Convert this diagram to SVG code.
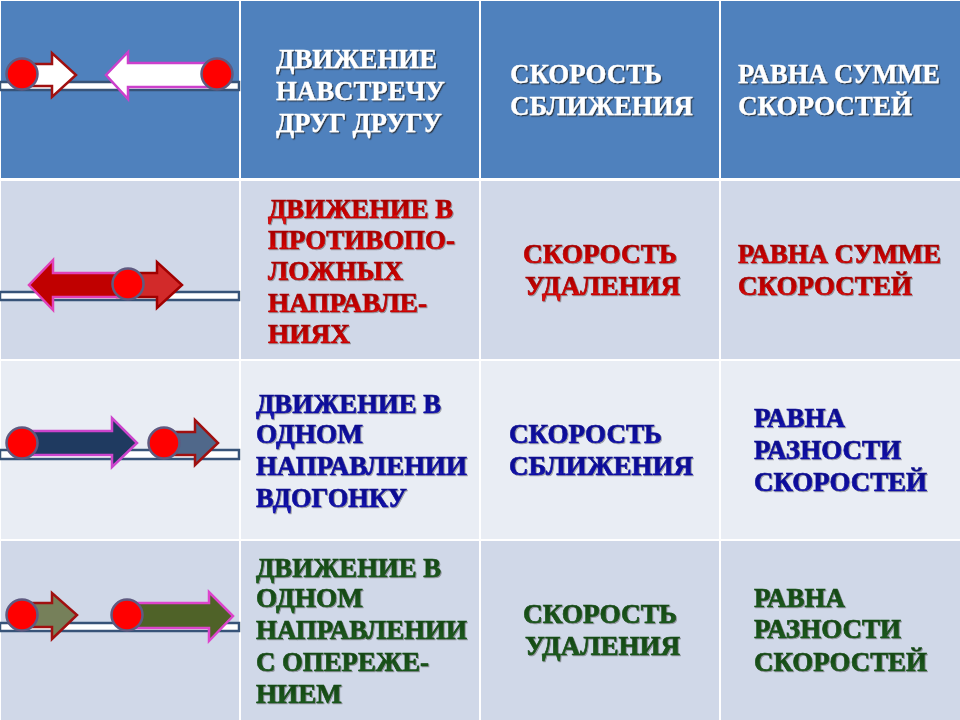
<svg xmlns="http://www.w3.org/2000/svg" width="960" height="720" viewBox="0 0 960 720">
<defs>
<filter id="sh" x="-5%" y="-20%" width="110%" height="140%">
<feDropShadow dx="1.2" dy="1.2" stdDeviation="0.6" flood-color="#202020" flood-opacity="0.8"/>
</filter>
<filter id="sh2" x="-5%" y="-20%" width="110%" height="140%">
<feDropShadow dx="1" dy="1" stdDeviation="0.6" flood-color="#404040" flood-opacity="0.45"/>
</filter>
<linearGradient id="gRed" x1="0" y1="0" x2="0" y2="1">
<stop offset="0" stop-color="#8a0000"/>
<stop offset="0.5" stop-color="#c00000"/>
<stop offset="1" stop-color="#e81010"/>
</linearGradient>
<linearGradient id="gBlue" x1="0" y1="0" x2="0" y2="1">
<stop offset="0" stop-color="#08087a"/>
<stop offset="1" stop-color="#1616b8"/>
</linearGradient>
<linearGradient id="gGreen" x1="0" y1="0" x2="0" y2="1">
<stop offset="0" stop-color="#123f12"/>
<stop offset="1" stop-color="#1f6020"/>
</linearGradient>
</defs>
<style>
text{font-family:"Liberation Serif","Times New Roman",serif;font-weight:bold;font-size:27.5px}
.hw{fill:#ffffff;stroke:#ffffff;stroke-width:0.3;filter:url(#sh)}
.rd{fill:url(#gRed);stroke:#b00000;stroke-width:0.7;filter:url(#sh2)}
.bl{fill:url(#gBlue);stroke:#0c0c9a;stroke-width:0.7;filter:url(#sh2)}
.gr{fill:url(#gGreen);stroke:#174f17;stroke-width:0.7;filter:url(#sh2)}
.road{fill:#ffffff;stroke:#375378;stroke-width:2.5}
.dot{fill:#ff0000;stroke:#5f5a80;stroke-width:2.5}
.arr{stroke-width:2.5;stroke-linejoin:miter}
</style>
<rect x="0" y="0" width="960" height="720" fill="#ffffff"/>
<g id="cells">
<rect x="1" y="1" width="238" height="177" fill="#4f81bd"/>
<rect x="241" y="1" width="238" height="177" fill="#4f81bd"/>
<rect x="481" y="1" width="238" height="177" fill="#4f81bd"/>
<rect x="721" y="1" width="239" height="177" fill="#4f81bd"/>
<rect x="1" y="181" width="238" height="178" fill="#d0d8e8"/>
<rect x="241" y="181" width="238" height="178" fill="#d0d8e8"/>
<rect x="481" y="181" width="238" height="178" fill="#d0d8e8"/>
<rect x="721" y="181" width="239" height="178" fill="#d0d8e8"/>
<rect x="1" y="361" width="238" height="178" fill="#e9edf4"/>
<rect x="241" y="361" width="238" height="178" fill="#e9edf4"/>
<rect x="481" y="361" width="238" height="178" fill="#e9edf4"/>
<rect x="721" y="361" width="239" height="178" fill="#e9edf4"/>
<rect x="1" y="541" width="238" height="179" fill="#d0d8e8"/>
<rect x="241" y="541" width="238" height="179" fill="#d0d8e8"/>
<rect x="481" y="541" width="238" height="179" fill="#d0d8e8"/>
<rect x="721" y="541" width="239" height="179" fill="#d0d8e8"/>
</g>
<g id="pic-row1">
<rect class="road" x="0" y="82" width="239" height="8"/>
<polygon class="arr" fill="#ffffff" stroke="#a01010" points="22,64 52,64 52,53 76,75 52,97 52,86 22,86"/>
<polygon class="arr" fill="#ffffff" stroke="#cc3fcc" points="217,63 128,63 128,52 106,75 128,99 128,87 217,87"/>
<circle class="dot" cx="22" cy="74" r="15.5"/>
<circle class="dot" cx="217" cy="74" r="15.5"/>
</g>
<g id="pic-row2">
<rect class="road" x="0" y="292" width="239" height="8"/>
<polygon class="arr" fill="#d22a2a" stroke="#a00000" points="117,273 157,273 157,262 182,285 157,308 157,297 117,297"/>
<polygon class="arr" fill="#c00000" stroke="#e040b8" points="128,273 53,273 53,260 29,285 53,310 53,297 128,297"/>
<circle class="dot" cx="128" cy="284" r="15.5"/>
</g>
<g id="pic-row3">
<rect class="road" x="0" y="450" width="239" height="9"/>
<polygon class="arr" fill="#1f3a60" stroke="#cc44cc" points="22,431 112,431 112,418 137,443 112,467 112,455 22,455"/>
<polygon class="arr" fill="#50688a" stroke="#a01010" points="164,432 195,432 195,420 218,443 195,465 195,455 164,455"/>
<circle class="dot" cx="22" cy="443" r="15.5"/>
<circle class="dot" cx="164" cy="443" r="15.5"/>
</g>
<g id="pic-row4">
<rect class="road" x="0" y="623" width="239" height="8"/>
<polygon class="arr" fill="#76805a" stroke="#a01010" points="22,603 52,603 52,593 77,615 52,639 52,627 22,627"/>
<polygon class="arr" fill="#4f6228" stroke="#dd44cc" points="127,603 209,603 209,592 233,616 209,641 209,628 127,628"/>
<circle class="dot" cx="22" cy="615" r="15.5"/>
<circle class="dot" cx="127" cy="615" r="15.5"/>
</g>
<g id="connectors"></g>
<g id="h-motion">
<text class="hw" x="276" y="68" textLength="161" lengthAdjust="spacingAndGlyphs">ДВИЖЕНИЕ</text>
<text class="hw" x="276" y="100" textLength="169" lengthAdjust="spacingAndGlyphs">НАВСТРЕЧУ</text>
<text class="hw" x="276" y="132" textLength="166" lengthAdjust="spacingAndGlyphs">ДРУГ ДРУГУ</text>
</g>
<g id="h-speed">
<text class="hw" x="510" y="83" textLength="152" lengthAdjust="spacingAndGlyphs">СКОРОСТЬ</text>
<text class="hw" x="510" y="115" textLength="183" lengthAdjust="spacingAndGlyphs">СБЛИЖЕНИЯ</text>
</g>
<g id="h-rule">
<text class="hw" x="738" y="83" textLength="202" lengthAdjust="spacingAndGlyphs">РАВНА СУММЕ</text>
<text class="hw" x="738" y="115" textLength="174" lengthAdjust="spacingAndGlyphs">СКОРОСТЕЙ</text>
</g>
<g id="r2-motion">
<text class="rd" x="268" y="218" textLength="185" lengthAdjust="spacingAndGlyphs">ДВИЖЕНИЕ В</text>
<text class="rd" x="268" y="249" textLength="187" lengthAdjust="spacingAndGlyphs">ПРОТИВОПО-</text>
<text class="rd" x="268" y="280" textLength="135" lengthAdjust="spacingAndGlyphs">ЛОЖНЫХ</text>
<text class="rd" x="268" y="312" textLength="159" lengthAdjust="spacingAndGlyphs">НАПРАВЛЕ-</text>
<text class="rd" x="268" y="343" textLength="82" lengthAdjust="spacingAndGlyphs">НИЯХ</text>
</g>
<g id="r2-speed">
<text class="rd" x="523" y="263" textLength="154" lengthAdjust="spacingAndGlyphs">СКОРОСТЬ</text>
<text class="rd" x="525" y="295" textLength="155" lengthAdjust="spacingAndGlyphs">УДАЛЕНИЯ</text>
</g>
<g id="r2-rule">
<text class="rd" x="738" y="263" textLength="203" lengthAdjust="spacingAndGlyphs">РАВНА СУММЕ</text>
<text class="rd" x="738" y="295" textLength="174" lengthAdjust="spacingAndGlyphs">СКОРОСТЕЙ</text>
</g>
<g id="r3-motion">
<text class="bl" x="256" y="413" textLength="185" lengthAdjust="spacingAndGlyphs">ДВИЖЕНИЕ В</text>
<text class="bl" x="256" y="443" textLength="107" lengthAdjust="spacingAndGlyphs">ОДНОМ</text>
<text class="bl" x="256" y="475" textLength="211" lengthAdjust="spacingAndGlyphs">НАПРАВЛЕНИИ</text>
<text class="bl" x="256" y="507" textLength="151" lengthAdjust="spacingAndGlyphs">ВДОГОНКУ</text>
</g>
<g id="r3-speed">
<text class="bl" x="509" y="443" textLength="153" lengthAdjust="spacingAndGlyphs">СКОРОСТЬ</text>
<text class="bl" x="509" y="475" textLength="184" lengthAdjust="spacingAndGlyphs">СБЛИЖЕНИЯ</text>
</g>
<g id="r3-rule">
<text class="bl" x="754" y="427" textLength="91" lengthAdjust="spacingAndGlyphs">РАВНА</text>
<text class="bl" x="754" y="459" textLength="147" lengthAdjust="spacingAndGlyphs">РАЗНОСТИ</text>
<text class="bl" x="754" y="491" textLength="173" lengthAdjust="spacingAndGlyphs">СКОРОСТЕЙ</text>
</g>
<g id="r4-motion">
<text class="gr" x="256" y="577" textLength="185" lengthAdjust="spacingAndGlyphs">ДВИЖЕНИЕ В</text>
<text class="gr" x="256" y="607" textLength="107" lengthAdjust="spacingAndGlyphs">ОДНОМ</text>
<text class="gr" x="256" y="639" textLength="211" lengthAdjust="spacingAndGlyphs">НАПРАВЛЕНИИ</text>
<text class="gr" x="256" y="671" textLength="173" lengthAdjust="spacingAndGlyphs">С ОПЕРЕЖЕ-</text>
<text class="gr" x="256" y="703" textLength="86" lengthAdjust="spacingAndGlyphs">НИЕМ</text>
</g>
<g id="r4-speed">
<text class="gr" x="523" y="623" textLength="154" lengthAdjust="spacingAndGlyphs">СКОРОСТЬ</text>
<text class="gr" x="525" y="655" textLength="155" lengthAdjust="spacingAndGlyphs">УДАЛЕНИЯ</text>
</g>
<g id="r4-rule">
<text class="gr" x="754" y="607" textLength="91" lengthAdjust="spacingAndGlyphs">РАВНА</text>
<text class="gr" x="754" y="638" textLength="147" lengthAdjust="spacingAndGlyphs">РАЗНОСТИ</text>
<text class="gr" x="754" y="671" textLength="173" lengthAdjust="spacingAndGlyphs">СКОРОСТЕЙ</text>
</g>
</svg>
